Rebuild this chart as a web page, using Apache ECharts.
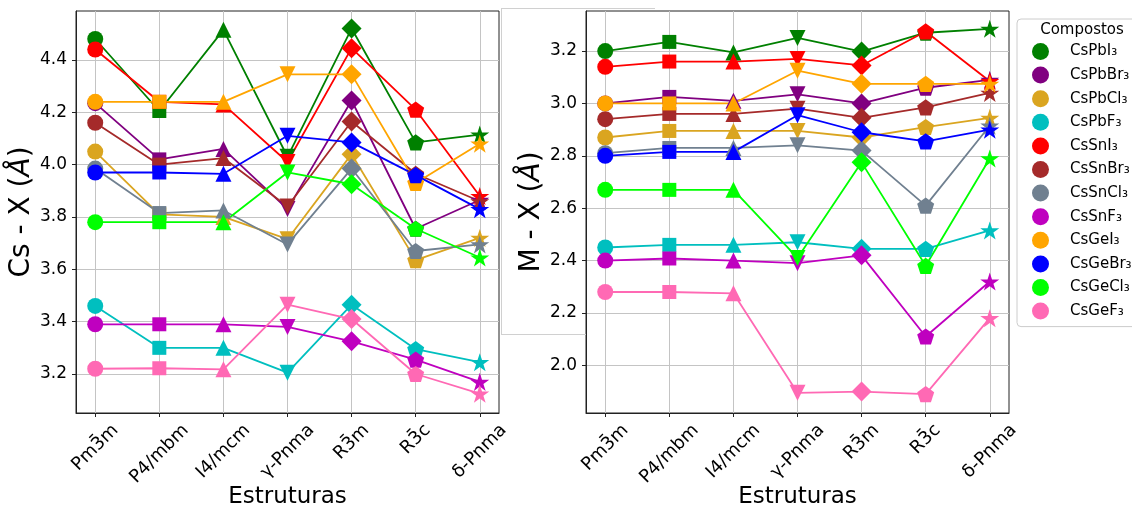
<!DOCTYPE html>
<html><head><meta charset="utf-8">
<script src="https://cdn.jsdelivr.net/npm/echarts@6/dist/echarts.min.js"></script>
<style>html,body{margin:0;padding:0;background:#fff}#c{width:1132px;height:517px}</style>
</head><body><div id="c"></div>
<script>
// ---- data ----
const structures = ['Pm3̄m', 'P4/mbm', 'I4/mcm', 'γ-Pnma', 'R3̄m', 'R3̄c', 'δ-Pnma'];
const compounds = ['CsPbI₃','CsPbBr₃','CsPbCl₃','CsPbF₃','CsSnI₃','CsSnBr₃','CsSnCl₃','CsSnF₃','CsGeI₃','CsGeBr₃','CsGeCl₃','CsGeF₃'];
const colors = ['#008000','#800080','#DAA520','#00BFBF','#FF0000','#A52A2A','#708090','#BF00BF','#FFA500','#0000FF','#00FF00','#FF69B4'];
const yTicksCsX = [3.2, 3.4, 3.6, 3.8, 4.0, 4.2, 4.4];
const yTicksMX = [2.0, 2.2, 2.4, 2.6, 2.8, 3.0, 3.2];

// Cs - X distances (left panel)
const csX_CsPbI3  = [4.48, 4.205, 4.515, 4.03, 4.52, 4.085, 4.115];
const csX_CsPbBr3 = [4.235, 4.02, 4.06, 3.83, 4.245, 3.755, 3.865];
const csX_CsPbCl3 = [4.05, 3.81, 3.80, 3.715, 4.04, 3.635, 3.72];
const csX_CsPbF3  = [3.46, 3.30, 3.30, 3.205, 3.465, 3.295, 3.245];
const csX_CsSnI3  = [4.44, 4.24, 4.23, 4.01, 4.445, 4.21, 3.88];
const csX_CsSnBr3 = [4.16, 4.00, 4.025, 3.84, 4.165, 3.965, 3.86];
const csX_CsSnCl3 = [3.985, 3.815, 3.825, 3.695, 3.985, 3.67, 3.695];
const csX_CsSnF3  = [3.39, 3.39, 3.39, 3.38, 3.325, 3.255, 3.17];
const csX_CsGeI3  = [4.24, 4.24, 4.24, 4.345, 4.345, 3.93, 4.08];
const csX_CsGeBr3 = [3.97, 3.97, 3.965, 4.11, 4.085, 3.96, 3.83];
const csX_CsGeCl3 = [3.78, 3.78, 3.78, 3.97, 3.925, 3.755, 3.645];
const csX_CsGeF3  = [3.22, 3.222, 3.218, 3.465, 3.41, 3.20, 3.125];

// M - X distances (right panel)
const mX_CsPbI3  = [3.20, 3.235, 3.195, 3.25, 3.198, 3.27, 3.285];
const mX_CsPbBr3 = [3.00, 3.025, 3.01, 3.035, 3.00, 3.06, 3.09];
const mX_CsPbCl3 = [2.87, 2.895, 2.895, 2.895, 2.87, 2.91, 2.945];
const mX_CsPbF3  = [2.45, 2.46, 2.46, 2.47, 2.445, 2.445, 2.515];
const mX_CsSnI3  = [3.14, 3.16, 3.16, 3.17, 3.145, 3.275, 3.085];
const mX_CsSnBr3 = [2.94, 2.96, 2.96, 2.98, 2.945, 2.985, 3.04];
const mX_CsSnCl3 = [2.81, 2.83, 2.83, 2.84, 2.82, 2.61, 2.915];
const mX_CsSnF3  = [2.40, 2.408, 2.40, 2.39, 2.42, 2.11, 2.32];
const mX_CsGeI3  = [3.00, 3.00, 3.00, 3.125, 3.075, 3.075, 3.075];
const mX_CsGeBr3 = [2.80, 2.815, 2.815, 2.955, 2.89, 2.855, 2.90];
const mX_CsGeCl3 = [2.67, 2.67, 2.67, 2.41, 2.775, 2.38, 2.79];
const mX_CsGeF3  = [2.28, 2.28, 2.275, 1.895, 1.90, 1.89, 2.18];

const csXSeries = [csX_CsPbI3, csX_CsPbBr3, csX_CsPbCl3, csX_CsPbF3, csX_CsSnI3, csX_CsSnBr3, csX_CsSnCl3, csX_CsSnF3, csX_CsGeI3, csX_CsGeBr3, csX_CsGeCl3, csX_CsGeF3];
const mXSeries = [mX_CsPbI3, mX_CsPbBr3, mX_CsPbCl3, mX_CsPbF3, mX_CsSnI3, mX_CsSnBr3, mX_CsSnCl3, mX_CsSnF3, mX_CsGeI3, mX_CsGeBr3, mX_CsGeCl3, mX_CsGeF3];

// ---- styling ----
const FONT = 'DejaVu Sans';
function polyPath(n, inner) {
  const pts = [];
  const k = inner ? 2 * n : n;
  for (let i = 0; i < k; i++) {
    const a = -Math.PI / 2 + i * Math.PI * 2 / k;
    const r = inner && (i % 2 === 1) ? inner : 1;
    pts.push((r * Math.cos(a)).toFixed(4) + ',' + (r * Math.sin(a)).toFixed(4));
  }
  return 'path://M' + pts.join(' L') + ' Z';
}
const PENT = polyPath(5, 0);
const STAR = polyPath(5, 0.381966);
const markerSym = ['circle', 'rect', 'triangle', 'triangle', 'diamond', PENT, STAR];
const markerRot = [0, 0, 0, 180, 0, 0, 0];
const markerSize = [16, 14, 16, 16, 20, 17, 19];
const xTickVals = structures.map((_, i) => i);

const labelFont = 18;
const lh = Math.round(labelFont * 1.17);
const mctx = document.createElement('canvas').getContext('2d');
mctx.font = labelFont + 'px "DejaVu Sans"';

function xAx(gi) {
  return {
    type: 'value', gridIndex: gi, min: -0.3, max: 6.3,
    axisLine: { show: true, onZero: false, lineStyle: { color: '#222', width: 1 } },
    axisTick: { show: true, length: 4, customValues: xTickVals, lineStyle: { color: '#222' } },
    axisLabel: { show: false, customValues: xTickVals },
    splitLine: { show: true, lineStyle: { color: '#c4c4c4', width: 1 } },
    name: 'Estruturas', nameLocation: 'middle', nameGap: 73,
    nameTextStyle: { fontSize: 23, fontFamily: FONT, color: '#000' }
  };
}
function yAx(gi, min, max, ticks, name, gap) {
  return {
    type: 'value', gridIndex: gi, min, max,
    axisLine: { show: true, onZero: false, lineStyle: { color: '#222', width: 1 } },
    axisTick: { show: true, length: 4, customValues: ticks, lineStyle: { color: '#222' } },
    axisLabel: { customValues: ticks, margin: 9, fontSize: 17, fontFamily: FONT, color: '#000', formatter: v => v.toFixed(1) },
    splitLine: { show: true, lineStyle: { color: '#c4c4c4', width: 1 } },
    name, nameLocation: 'middle', nameRotate: 90, nameGap: gap,
    nameTextStyle: { fontSize: 28, fontFamily: FONT, color: '#000', rich: { i: { fontSize: 28, fontFamily: FONT, fontStyle: 'italic', color: '#000' } } }
  };
}

const series = [];
[csXSeries, mXSeries].forEach((panel, gi) => {
  panel.forEach((vals, k) => {
    series.push({
      type: 'line', name: compounds[k], xAxisIndex: gi, yAxisIndex: gi,
      lineStyle: { width: 1.8, color: colors[k] }, itemStyle: { color: colors[k], opacity: 1 },
      symbolKeepAspect: true, showSymbol: true, emphasis: { disabled: true },
      data: vals.map((v, i) => ({ value: [i, v], symbol: markerSym[i], symbolSize: markerSize[i], symbolRotate: markerRot[i] }))
    });
  });
});

const chart = echarts.init(document.getElementById('c'));
chart.setOption({
  animation: false,
  backgroundColor: '#fff',
  grid: [
    { left: 76, top: 11, width: 423, height: 402, show: true, borderColor: '#222', borderWidth: 1, backgroundColor: 'transparent' },
    { left: 586, top: 11, width: 423, height: 402, show: true, borderColor: '#222', borderWidth: 1, backgroundColor: 'transparent' }
  ],
  xAxis: [xAx(0), xAx(1)],
  yAxis: [
    yAx(0, 3.051, 4.587, yTicksCsX, 'Cs - X ({i|Å})', 29),
    yAx(1, 1.818, 3.353, yTicksMX, 'M - X ({i|Å})', 29)
  ],
  legend: {
    data: compounds, icon: 'circle', orient: 'vertical', left: 1017, top: 19,
    itemWidth: 17, itemHeight: 17, itemGap: 6.6, selectedMode: false,
    padding: [24, 40, 7, 15], borderColor: '#cccccc', borderWidth: 1, borderRadius: 4,
    textStyle: { fontSize: 15, fontFamily: FONT, color: '#000', lineHeight: 17, padding: [0, 0, 0, 16] }
  },
  series
});

// rotated tick labels (matplotlib style: rotation 45, centred under the tick, top-aligned)
const graphics = [
  { type: 'text', x: 1082, y: 30, style: { text: 'Compostos', fontSize: 15, fontFamily: FONT, fill: '#000', align: 'center', verticalAlign: 'middle' } },
  { type: 'line', shape: { x1: 501, y1: 8.5, x2: 655, y2: 8.5 }, style: { stroke: '#d0d0d0', lineWidth: 1 } },
  { type: 'line', shape: { x1: 501.5, y1: 8, x2: 501.5, y2: 334 }, style: { stroke: '#d0d0d0', lineWidth: 1 } },
  { type: 'line', shape: { x1: 501, y1: 334.5, x2: 586, y2: 334.5 }, style: { stroke: '#d0d0d0', lineWidth: 1 } }
];
[0, 1].forEach(gi => {
  const yMin = chart.getModel().getComponent('yAxis', gi).axis.scale.getExtent()[0];
  structures.forEach((s, i) => {
    const p = chart.convertToPixel({ gridIndex: gi }, [xTickVals[i], yMin]);
    const L = mctx.measureText(s).width;
    graphics.push({
      type: 'text', x: p[0] + (L - lh) / (2 * Math.SQRT2), y: p[1] + 7, rotation: Math.PI / 4,
      style: { text: s, fontSize: labelFont, fontFamily: FONT, fill: '#000', align: 'right', verticalAlign: 'top', lineHeight: lh }
    });
  });
});
chart.setOption({ graphic: graphics });
</script></body></html>
